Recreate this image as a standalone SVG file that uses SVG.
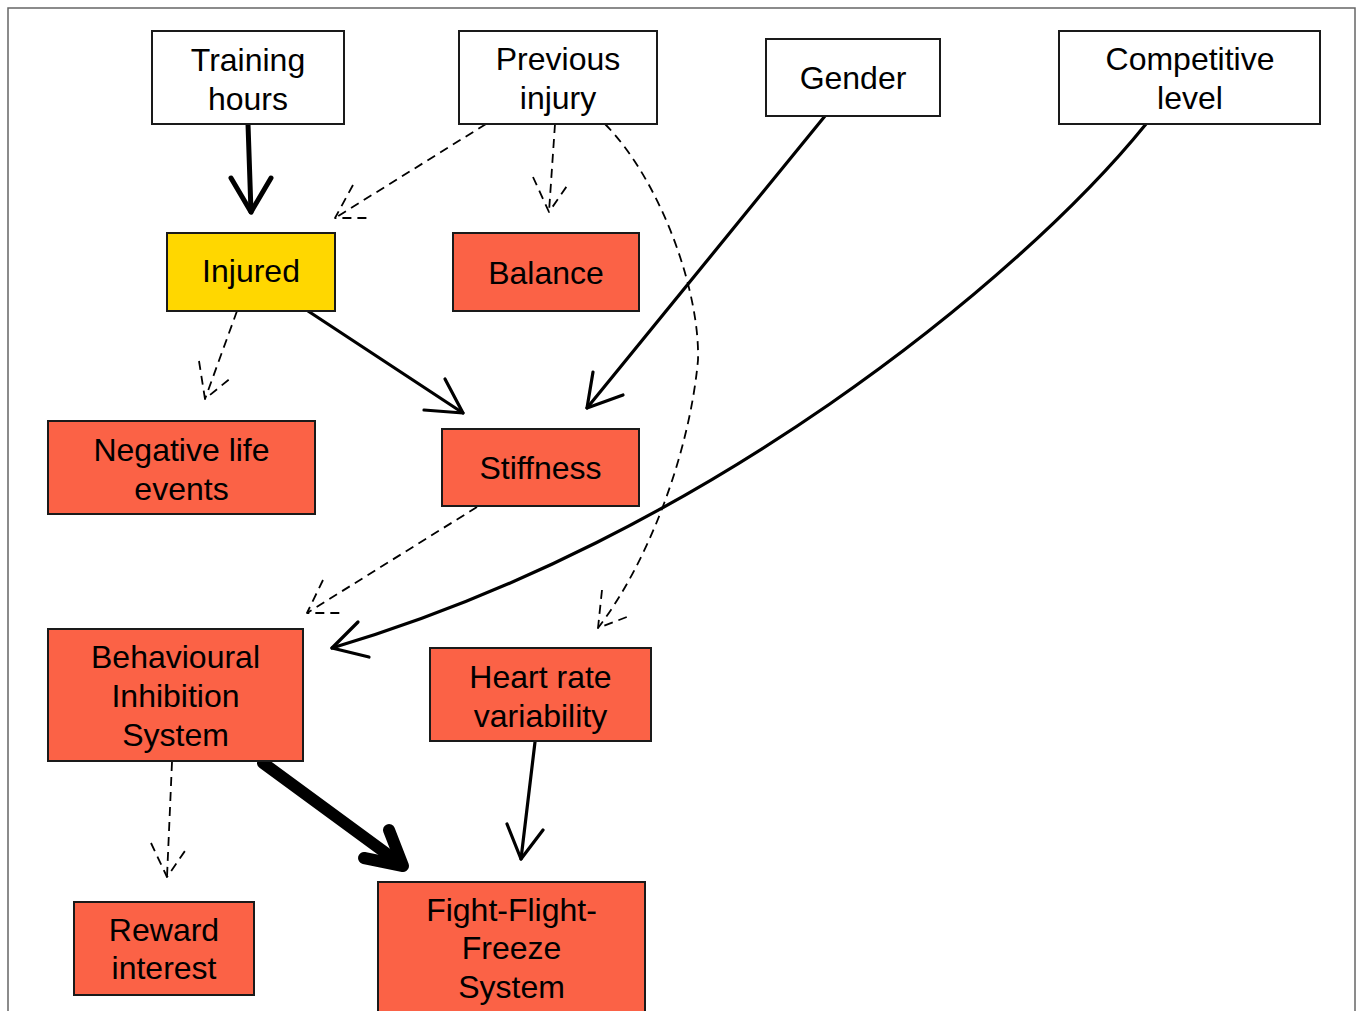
<svg xmlns="http://www.w3.org/2000/svg" width="1358" height="1011" viewBox="0 0 1358 1011">
<style>
.bg{fill:#fff}
.frame{fill:none;stroke:#666;stroke-width:1.5}
.box{stroke:#1a1a1a;stroke-width:2}
.white{fill:#fff}
.red{fill:#FB6246}
.yellow{fill:#FFD700}
text{font-family:"Liberation Sans",Arial,sans-serif;font-size:32px;fill:#000;text-anchor:middle}
.e{fill:none;stroke:#000;stroke-linecap:round;stroke-linejoin:round}
.dash{stroke-width:1.8;stroke-dasharray:9 6;stroke-linecap:butt}
.s3{stroke-width:3.2}
.s5{stroke-width:5}
.s12{stroke-width:12}
</style>
<rect class="bg" x="0" y="0" width="1358" height="1011"/>
<rect class="frame" x="8" y="8" width="1347" height="1012"/>

<g id="connectors">
  <!-- Training hours -> Injured -->
  <path class="e s5" d="M248,124 L251,212"/>
  <polyline class="e s5" points="231,178 251,212 271,178"/>
  <!-- Previous injury -> Injured -->
  <path class="e dash" d="M486,124 L335,218"/>
  <polyline class="e dash" points="353,185 335,218 369,218"/>
  <!-- Previous injury -> Balance -->
  <path class="e dash" d="M555,124 L549,212"/>
  <polyline class="e dash" points="533,177 549,212 569,183"/>
  <!-- Previous injury -> Heart rate variability -->
  <path class="e dash" d="M605,124 C660,180 700,290 698,360 C690,450 650,560 598,628"/>
  <polyline class="e dash" points="602,590 598,628 632,615"/>
  <!-- Injured -> Negative life events -->
  <path class="e dash" d="M237,311 L205,399"/>
  <polyline class="e dash" points="199,361 205,399 232,377"/>
  <!-- Injured -> Stiffness -->
  <path class="e s3" d="M308,311 L463,413"/>
  <polyline class="e s3" points="424,410 463,413 445,379"/>
  <!-- Gender -> Stiffness -->
  <path class="e s3" d="M825,116 L587,408"/>
  <polyline class="e s3" points="593,372 587,408 623,395"/>
  <!-- Competitive level -> BIS -->
  <path class="e s3" d="M1146,124 C1020,280 700,540 332,648"/>
  <polyline class="e s3" points="358,622 332,648 369,657"/>
  <!-- Stiffness -> BIS -->
  <path class="e dash" d="M477,507 L307,613"/>
  <polyline class="e dash" points="323,580 307,613 342,613"/>
  <!-- BIS -> Reward interest -->
  <path class="e dash" d="M172,762 L167,877"/>
  <polyline class="e dash" points="151,843 167,877 187,848"/>
  <!-- BIS -> Fight-Flight-Freeze -->
  <path class="e s12" d="M263,763 L398,862"/>
  <polyline class="e s12" points="364,858 403,866 389,830"/>
  <!-- Heart rate variability -> Fight-Flight-Freeze -->
  <path class="e s3" d="M535,742 L521,859"/>
  <polyline class="e s3" points="507,824 521,859 543,830"/>
</g>

<g id="training-hours">
  <rect class="box white" x="152" y="31" width="192" height="93"/>
  <text x="248" y="71">Training</text>
  <text x="248" y="110">hours</text>
</g>
<g id="previous-injury">
  <rect class="box white" x="459" y="31" width="198" height="93"/>
  <text x="558" y="70">Previous</text>
  <text x="558" y="109">injury</text>
</g>
<g id="gender">
  <rect class="box white" x="766" y="39" width="174" height="77"/>
  <text x="853" y="89">Gender</text>
</g>
<g id="competitive-level">
  <rect class="box white" x="1059" y="31" width="261" height="93"/>
  <text x="1190" y="70">Competitive</text>
  <text x="1190" y="109">level</text>
</g>
<g id="injured">
  <rect class="box yellow" x="167" y="233" width="168" height="78"/>
  <text x="251" y="282">Injured</text>
</g>
<g id="balance">
  <rect class="box red" x="453" y="233" width="186" height="78"/>
  <text x="546" y="284">Balance</text>
</g>
<g id="negative-life-events">
  <rect class="box red" x="48" y="421" width="267" height="93"/>
  <text x="181.5" y="461">Negative life</text>
  <text x="181.5" y="500">events</text>
</g>
<g id="stiffness">
  <rect class="box red" x="442" y="429" width="197" height="77"/>
  <text x="540.5" y="479">Stiffness</text>
</g>
<g id="behavioural-inhibition-system">
  <rect class="box red" x="48" y="629" width="255" height="132"/>
  <text x="175.5" y="668">Behavioural</text>
  <text x="175.5" y="707">Inhibition</text>
  <text x="175.5" y="746">System</text>
</g>
<g id="heart-rate-variability">
  <rect class="box red" x="430" y="648" width="221" height="93"/>
  <text x="540.5" y="688">Heart rate</text>
  <text x="540.5" y="727">variability</text>
</g>
<g id="reward-interest">
  <rect class="box red" x="74" y="902" width="180" height="93"/>
  <text x="164" y="941">Reward</text>
  <text x="164" y="979">interest</text>
</g>
<g id="fight-flight-freeze-system">
  <rect class="box red" x="378" y="882" width="267" height="140"/>
  <text x="511.5" y="921">Fight-Flight-</text>
  <text x="511.5" y="959">Freeze</text>
  <text x="511.5" y="998">System</text>
</g>
</svg>
